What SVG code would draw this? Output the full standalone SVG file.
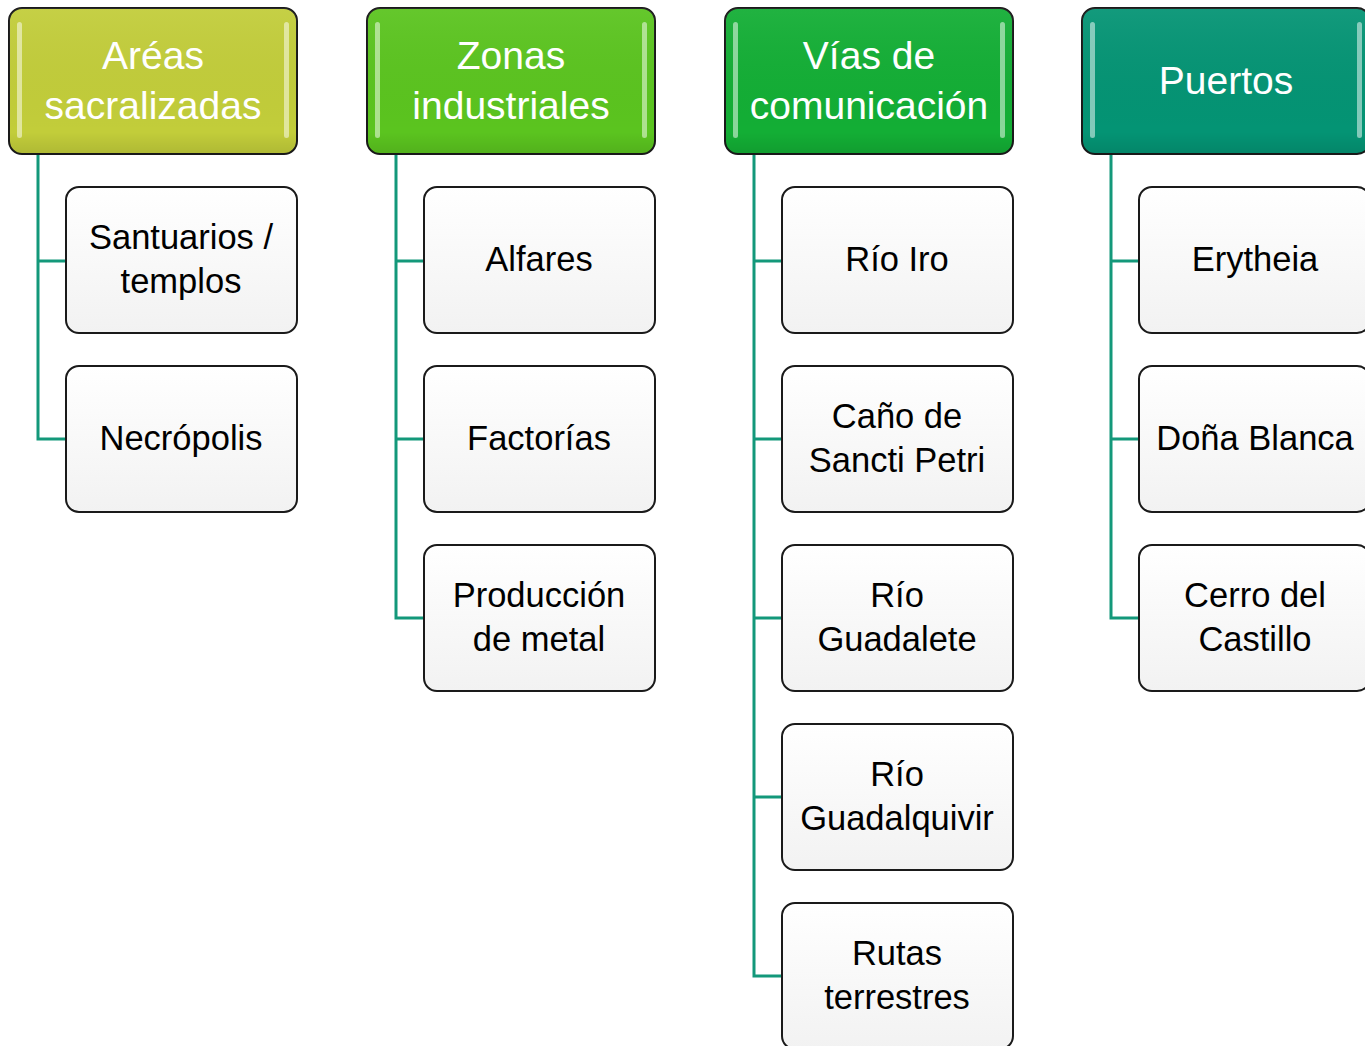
<svg xmlns="http://www.w3.org/2000/svg" width="1365" height="1046" viewBox="0 0 1365 1046">
<defs>
<style>
.hd{stroke:#1a1a1a;stroke-width:2}
.ch{fill:url(#cg);stroke:#1a1a1a;stroke-width:2}
.ht{font-family:"Liberation Sans",Arial,sans-serif;font-size:39px;fill:#ffffff;text-anchor:middle}
.ct{font-family:"Liberation Sans",Arial,sans-serif;font-size:34.5px;fill:#000000;text-anchor:middle}
.cn{fill:none;stroke:#13987a;stroke-width:3}
.gl{fill:#ffffff;opacity:0.5}
</style>
<linearGradient id="cg" x1="0" y1="0" x2="0" y2="1">
<stop offset="0" stop-color="#ffffff"/>
<stop offset="1" stop-color="#f2f2f2"/>
</linearGradient>
<linearGradient id="shade" x1="0" y1="0" x2="0" y2="1">
<stop offset="0" stop-color="#ffffff" stop-opacity="0.06"/>
<stop offset="0.85" stop-color="#000000" stop-opacity="0"/>
<stop offset="1" stop-color="#000000" stop-opacity="0.1"/>
</linearGradient>
</defs>
<rect width="1365" height="1046" fill="#ffffff"/>
<g id="connectors">
<path class="cn" d="M38 154 V439 H66 M38 261 H66"/>
<path class="cn" d="M396 154 V618 H424 M396 261 H424 M396 439 H424"/>
<path class="cn" d="M754 154 V976 H782 M754 261 H782 M754 439 H782 M754 618 H782 M754 797 H782"/>
<path class="cn" d="M1111 154 V618 H1139 M1111 261 H1139 M1111 439 H1139"/>
</g>
<g id="h1">
<rect class="hd" x="9" y="8" width="288" height="146" rx="13" fill="#c2cd3a"/>
<rect x="9" y="8" width="288" height="146" rx="13" fill="url(#shade)"/>
<rect class="gl" x="17" y="22" width="5" height="116" rx="2.5"/>
<rect class="gl" x="284" y="22" width="5" height="116" rx="2.5"/>
<text class="ht" x="153" y="69">Aréas</text>
<text class="ht" x="153" y="119">sacralizadas</text>
</g>
<g id="h2">
<rect class="hd" x="367" y="8" width="288" height="146" rx="13" fill="#5bc41f"/>
<rect x="367" y="8" width="288" height="146" rx="13" fill="url(#shade)"/>
<rect class="gl" x="375" y="22" width="5" height="116" rx="2.5"/>
<rect class="gl" x="642" y="22" width="5" height="116" rx="2.5"/>
<text class="ht" x="511" y="69">Zonas</text>
<text class="ht" x="511" y="119">industriales</text>
</g>
<g id="h3">
<rect class="hd" x="725" y="8" width="288" height="146" rx="13" fill="#13ae35"/>
<rect x="725" y="8" width="288" height="146" rx="13" fill="url(#shade)"/>
<rect class="gl" x="733" y="22" width="5" height="116" rx="2.5"/>
<rect class="gl" x="1000" y="22" width="5" height="116" rx="2.5"/>
<text class="ht" x="869" y="69">Vías de</text>
<text class="ht" x="869" y="119">comunicación</text>
</g>
<g id="h4">
<rect class="hd" x="1082" y="8" width="288" height="146" rx="13" fill="#049474"/>
<rect x="1082" y="8" width="288" height="146" rx="13" fill="url(#shade)"/>
<rect class="gl" x="1090" y="22" width="5" height="116" rx="2.5"/>
<rect class="gl" x="1357" y="22" width="5" height="116" rx="2.5"/>
<text class="ht" x="1226" y="94">Puertos</text>
</g>
<g id="c1a"><rect class="ch" x="66" y="187" width="231" height="146" rx="13"/><text class="ct" x="181" y="249">Santuarios /</text><text class="ct" x="181" y="293">templos</text></g>
<g id="c1b"><rect class="ch" x="66" y="366" width="231" height="146" rx="13"/><text class="ct" x="181" y="450">Necrópolis</text></g>
<g id="c2a"><rect class="ch" x="424" y="187" width="231" height="146" rx="13"/><text class="ct" x="539" y="271">Alfares</text></g>
<g id="c2b"><rect class="ch" x="424" y="366" width="231" height="146" rx="13"/><text class="ct" x="539" y="450">Factorías</text></g>
<g id="c2c"><rect class="ch" x="424" y="545" width="231" height="146" rx="13"/><text class="ct" x="539" y="607">Producción</text><text class="ct" x="539" y="651">de metal</text></g>
<g id="c3a"><rect class="ch" x="782" y="187" width="231" height="146" rx="13"/><text class="ct" x="897" y="271">Río Iro</text></g>
<g id="c3b"><rect class="ch" x="782" y="366" width="231" height="146" rx="13"/><text class="ct" x="897" y="428">Caño de</text><text class="ct" x="897" y="472">Sancti Petri</text></g>
<g id="c3c"><rect class="ch" x="782" y="545" width="231" height="146" rx="13"/><text class="ct" x="897" y="607">Río</text><text class="ct" x="897" y="651">Guadalete</text></g>
<g id="c3d"><rect class="ch" x="782" y="724" width="231" height="146" rx="13"/><text class="ct" x="897" y="786">Río</text><text class="ct" x="897" y="830">Guadalquivir</text></g>
<g id="c3e"><rect class="ch" x="782" y="903" width="231" height="146" rx="13"/><text class="ct" x="897" y="965">Rutas</text><text class="ct" x="897" y="1009">terrestres</text></g>
<g id="c4a"><rect class="ch" x="1139" y="187" width="231" height="146" rx="13"/><text class="ct" x="1255" y="271">Erytheia</text></g>
<g id="c4b"><rect class="ch" x="1139" y="366" width="231" height="146" rx="13"/><text class="ct" x="1255" y="450">Doña Blanca</text></g>
<g id="c4c"><rect class="ch" x="1139" y="545" width="231" height="146" rx="13"/><text class="ct" x="1255" y="607">Cerro del</text><text class="ct" x="1255" y="651">Castillo</text></g>
</svg>
